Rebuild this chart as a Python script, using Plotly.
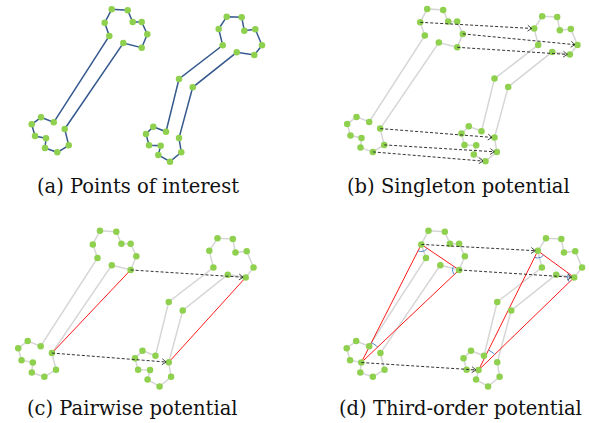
import math
import plotly.graph_objects as go

W, H = 589, 423

# Points of interest (panel-a pixel frame, y downward)
left_x = [53.7, 109.3, 104.7, 111.7, 127.7, 132.7, 141.7, 147.3, 141.7, 123.3,
          64.7, 68.7, 57.3, 45.0, 46.0, 35.0, 31.7, 41.0]
left_y = [122.3, 36.0, 22.7, 9.3, 10.3, 22.0, 22.0, 34.3, 47.7, 43.0,
          129.0, 145.3, 152.3, 148.0, 138.3, 136.0, 124.3, 117.3]
right_x = [166.0, 179.0, 222.7, 218.7, 226.7, 241.7, 244.3, 255.3, 262.0, 254.3,
           236.7, 192.7, 179.0, 181.3, 170.0, 158.3, 160.7, 149.0, 146.0, 153.3]
right_y = [131.7, 79.0, 45.3, 29.0, 16.7, 17.3, 30.7, 29.3, 45.3, 55.0,
           52.3, 87.3, 138.0, 152.3, 161.7, 155.0, 145.7, 145.3, 134.0, 126.7]

singleton_pairs = [(2, 3), (7, 8), (8, 9), (10, 12), (11, 13), (12, 14)]
pairwise_pairs = [(8, 9), (10, 12)]
pairwise_left_edge = (10, 8)
pairwise_right_edge = (12, 9)
triangle_left = [2, 8, 14]
triangle_right = [3, 9, 16]

captions = ["(a) Points of interest", "(b) Singleton potential",
            "(c) Pairwise potential", "(d) Third-order potential"]

# panel placement: (dx, dy, scale) and caption centre (px)
panels = [
    dict(dx=0.0, dy=0.0, s=1.0, cap=(138, 186)),
    dict(dx=315.5, dy=-0.4, s=1.0, cap=(458, 186)),
    dict(dx=-14.2, dy=221.2, s=1.022, cap=(132.5, 408)),
    dict(dx=314.3, dy=221.2, s=1.022, cap=(460, 408)),
]

GREEN = "#8fd14f"
BLUE_EDGE = "#36598e"
GRAY = "#d6d6d6"
RED = "#ff1a1a"
ARC = "#4a86c8"
DASH = "#333333"

fig = go.Figure()


def add(tr, k):
    tr.update(xaxis="x" if k == 0 else f"x{k+1}", yaxis="y" if k == 0 else f"y{k+1}",
              showlegend=False, hoverinfo="skip")
    fig.add_trace(tr)


def edges(k, color):
    for xs, ys in ((left_x, left_y), (right_x, right_y)):
        add(go.Scatter(x=xs + [xs[0]], y=ys + [ys[0]], mode="lines",
                       line=dict(color=color, width=1.5)), k)


def points(k):
    add(go.Scatter(x=left_x + right_x, y=left_y + right_y, mode="markers",
                   marker=dict(color=GREEN, size=6.5, line=dict(width=0))), k)


def arrows(k, pairs):
    lx, ly, hx, hy = [], [], [], []
    for i, j in pairs:
        x0, y0, x1, y1 = left_x[i], left_y[i], right_x[j], right_y[j]
        d = math.hypot(x1 - x0, y1 - y0)
        ux, uy = (x1 - x0) / d, (y1 - y0) / d
        tx, ty = x1 - ux * 2.5, y1 - uy * 2.5
        lx += [x0, tx, None]
        ly += [y0, ty, None]
        L, a = 5.0, math.radians(36)
        for sgn in (1, -1):
            c, s_ = math.cos(a), math.sin(a) * sgn
            wx = -ux * c + uy * s_
            wy = -uy * c - ux * s_
            hx += [tx + L * wx, tx, None]
            hy += [ty + L * wy, ty, None]
    add(go.Scatter(x=lx, y=ly, mode="lines",
                   line=dict(color=DASH, width=1, dash="3px,2px")), k)
    add(go.Scatter(x=hx, y=hy, mode="lines",
                   line=dict(color=DASH, width=0.9)), k)


def arc_pts(v, p1, p2, r, n=16):
    a1 = math.atan2(p1[1] - v[1], p1[0] - v[0])
    a2 = math.atan2(p2[1] - v[1], p2[0] - v[0])
    da = (a2 - a1 + math.pi) % (2 * math.pi) - math.pi
    xs = [v[0] + r * math.cos(a1 + da * t / n) for t in range(n + 1)]
    ys = [v[1] + r * math.sin(a1 + da * t / n) for t in range(n + 1)]
    return xs, ys


# (a)
edges(0, BLUE_EDGE)
points(0)

# (b)
edges(1, GRAY)
points(1)
arrows(1, singleton_pairs)

# (c)
edges(2, GRAY)
li, lj = pairwise_left_edge
ri, rj = pairwise_right_edge
add(go.Scatter(x=[left_x[li], left_x[lj], None, right_x[ri], right_x[rj]],
               y=[left_y[li], left_y[lj], None, right_y[ri], right_y[rj]],
               mode="lines", line=dict(color=RED, width=1)), 2)
points(2)
arrows(2, pairwise_pairs)

# (d)
edges(3, GRAY)
ax_, ay_ = [], []
for xs, ys, tri in ((left_x, left_y, triangle_left), (right_x, right_y, triangle_right)):
    tx = [xs[t] for t in tri] + [xs[tri[0]]]
    ty = [ys[t] for t in tri] + [ys[tri[0]]]
    add(go.Scatter(x=tx, y=ty, mode="lines", line=dict(color=RED, width=1)), 3)
    V = [(xs[t], ys[t]) for t in tri]
    radii = [7.0, 6.5, 22.0]
    for m in range(3):
        px_, py_ = arc_pts(V[m], V[(m + 1) % 3], V[(m + 2) % 3], radii[m])
        ax_ += px_ + [None]
        ay_ += py_ + [None]
add(go.Scatter(x=ax_, y=ay_, mode="lines", line=dict(color=ARC, width=1)), 3)
points(3)
arrows(3, list(zip(triangle_left, triangle_right)))

layout = dict(width=W, height=H, autosize=False,
              margin=dict(l=0, r=0, t=0, b=0, pad=0),
              paper_bgcolor="white", plot_bgcolor="rgba(0,0,0,0)")
annotations = []
for k, p in enumerate(panels):
    dx, dy, s = p["dx"], p["dy"], p["s"]
    xname = "xaxis" if k == 0 else f"xaxis{k+1}"
    yname = "yaxis" if k == 0 else f"yaxis{k+1}"
    xa = dict(range=[(0 - dx) / s, (W - dx) / s], visible=False, fixedrange=True,
              domain=[0, 1], anchor="y" if k == 0 else f"y{k+1}")
    ya = dict(range=[(H - dy) / s, (0 - dy) / s], visible=False, fixedrange=True,
              domain=[0, 1], anchor="x" if k == 0 else f"x{k+1}")
    if k > 0:
        xa["overlaying"] = "x"
        ya["overlaying"] = "y"
    layout[xname] = xa
    layout[yname] = ya
    cx, cy = p["cap"]
    annotations.append(dict(text=captions[k], xref="paper", yref="paper",
                            x=cx / W, y=1 - cy / H, xanchor="center", yanchor="middle",
                            showarrow=False,
                            font=dict(family="DejaVu Serif", size=19.5, color="#111")))
layout["annotations"] = annotations
fig.update_layout(**layout)
fig.write_html("out.html", config=dict(displayModeBar=False, staticPlot=True),
               post_script="document.body.style.margin='0px';document.body.style.overflow='hidden';")
